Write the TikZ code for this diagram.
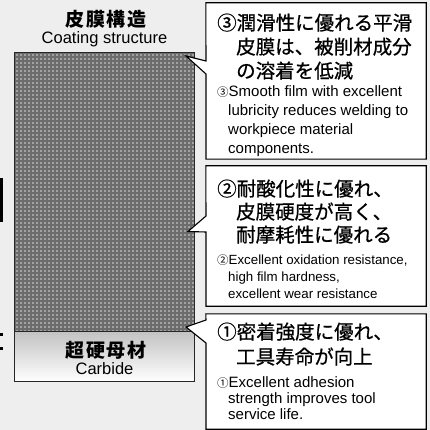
\documentclass[tikz,border=0pt]{standalone}
\usepackage{fontspec}
\setmainfont{Liberation Sans}
\newfontfamily\jp{Noto Sans CJK JP}
\newfontfamily\jpm{Noto Sans CJK JP}[FakeBold=0.7]
\newfontfamily\jptitle{Noto Sans CJK JP}[LetterSpace=8]
\usetikzlibrary{positioning,calc}

\definecolor{bggray}{HTML}{EEEEEE}
\definecolor{dotdark}{HTML}{6C6C6C}
\definecolor{dotlight}{HTML}{A2A2A2}
\definecolor{carbtop}{HTML}{C2C2C2}

\newcommand{\smallnum}[1]{{\jp\fontsize{11.5}{11.5}\selectfont #1}}

\tikzset{
    jptext/.style={anchor=base west,inner sep=0pt,font=\jpm\fontsize{19.5}{23}\selectfont},
    entext/.style={anchor=base west,inner sep=0pt,font=\fontsize{14.3}{17}\selectfont},
    enlarge/.style={entext,font=\fontsize{15}{17}\selectfont},
    ensmall/.style={entext,font=\fontsize{13.3}{17}\selectfont},
    calloutbox/.style={draw=black,line width=1.1pt,fill=white},
    layer/.style={draw=black!85,line width=1.1pt},
}

\begin{document}
\begin{tikzpicture}[x=1pt,y=-1pt]
        % Background
        \fill[bggray] (0,0) rectangle (430,430);
        \useasboundingbox (0,0) rectangle (430,430);
        \fill[black] (0,178) rectangle (3,222);
        \fill[black] (0,333) rectangle (2.5,336);
        \fill[black] (0,347) rectangle (2.5,350);

        %%%% Layers =====================================
        \node[inner sep=0pt,minimum width=179pt,minimum height=278pt] (coating) at (104.5,192) {};
        \node[inner sep=0pt,minimum width=179pt,minimum height=50pt,below=0pt of coating] (carbide) {};

        % Dotted film
        \fill[dotdark] (coating.north west) rectangle (coating.south east);
        \begin{scope}
            \clip (coating.north west) rectangle (coating.south east);
            \foreach \r in {0,...,70}
                \draw[dotlight,line width=2pt,dash pattern=on 2pt off 2pt]
                    ($(coating.north west)+(1,\r*4+2)$) -- ($(coating.north east)+(0,\r*4+2)$);
        \end{scope}
        \draw[layer] (coating.north west) rectangle (coating.south east);

        % Carbide
        \shade[top color=carbtop,bottom color=white] (carbide.north west) rectangle (carbide.south east);
        \draw[layer] (carbide.north west) rectangle (carbide.south east);

        % Labels
        \node[anchor=base,inner sep=0pt,font=\jptitle\bfseries\fontsize{19}{19}\selectfont] (title) at (106,27) {皮膜構造};
        \node[anchor=base,inner sep=0pt,font=\fontsize{16.5}{16.5}\selectfont] (titleen) at (104.5,44) {Coating structure};
        \node[anchor=base,inner sep=0pt,font=\jptitle\bfseries\fontsize{19}{19}\selectfont] (carbjp) at (106,357) {超硬母材};
        \node[anchor=base,inner sep=0pt,font=\fontsize{16.5}{16.5}\selectfont] (carben) at (104.5,374) {Carbide};

        %%%% Callouts ===================================
        \node[inner sep=0pt,minimum width=220pt,minimum height=156pt] (box3) at (316,81) {};
        \node[inner sep=0pt,minimum width=220pt,minimum height=140pt] (box2) at (316,236) {};
        \node[inner sep=0pt,minimum width=220pt,minimum height=115pt] (box1) at (316,371.5) {};

        % Pointer tips and bases
        \coordinate (tip3) at (186,56);
        \coordinate (up3) at (206,61);
        \coordinate (lo3) at (206,74);
        \coordinate (tip2) at (188,231.5);
        \coordinate (up2) at (206,216);
        \coordinate (lo2) at (206,232);
        \coordinate (tip1) at (186,327);
        \coordinate (up1) at (206,320);
        \coordinate (lo1) at (206,343);

        \draw[calloutbox] (box3.north west) -| (box3.south east) -| (lo3) -- (tip3) -- (up3) -- cycle;
        \draw[calloutbox] (box2.north west) -| (box2.south east) -| (lo2) -- (tip2) -- (up2) -- cycle;
        \draw[calloutbox] (box1.north west) -| (box1.south east) -| (lo1) -- (tip1) -- (up1) -- cycle;

        % Texts, box 3
        \node[jptext] (t3a) at (217,30) {③潤滑性に優れる平滑};
        \node[jptext] (t3b) at (236,54) {皮膜は、被削材成分};
        \node[jptext] (t3c) at (236,78) {の溶着を低減};
        \node[enlarge] (t3d) at (217,97) {\smallnum{③}Smooth film with excellent};
        \node[enlarge] (t3e) at (228,116) {lubricity reduces welding to};
        \node[enlarge] (t3f) at (228,135) {workpiece material};
        \node[enlarge] (t3g) at (228,154) {components.};

        % Texts, box 2
        \node[jptext] (t2a) at (217,196) {②耐酸化性に優れ、};
        \node[jptext] (t2b) at (236,219) {皮膜硬度が高く、};
        \node[jptext] (t2c) at (236,242) {耐摩耗性に優れる};
        \node[ensmall] (t2d) at (217,264) {\smallnum{②}Excellent oxidation resistance,};
        \node[ensmall] (t2e) at (228,281) {high film hardness,};
        \node[ensmall] (t2f) at (228,298) {excellent wear resistance};

        % Texts, box 1
        \node[jptext] (t1a) at (217,339) {①密着強度に優れ、};
        \node[jptext] (t1b) at (236,364) {工具寿命が向上};
        \node[enlarge] (t1c) at (217,387) {\smallnum{①}Excellent adhesion};
        \node[enlarge] (t1d) at (228,403) {strength improves tool};
        \node[enlarge] (t1e) at (228,419) {service life.};
\end{tikzpicture}
\end{document}
